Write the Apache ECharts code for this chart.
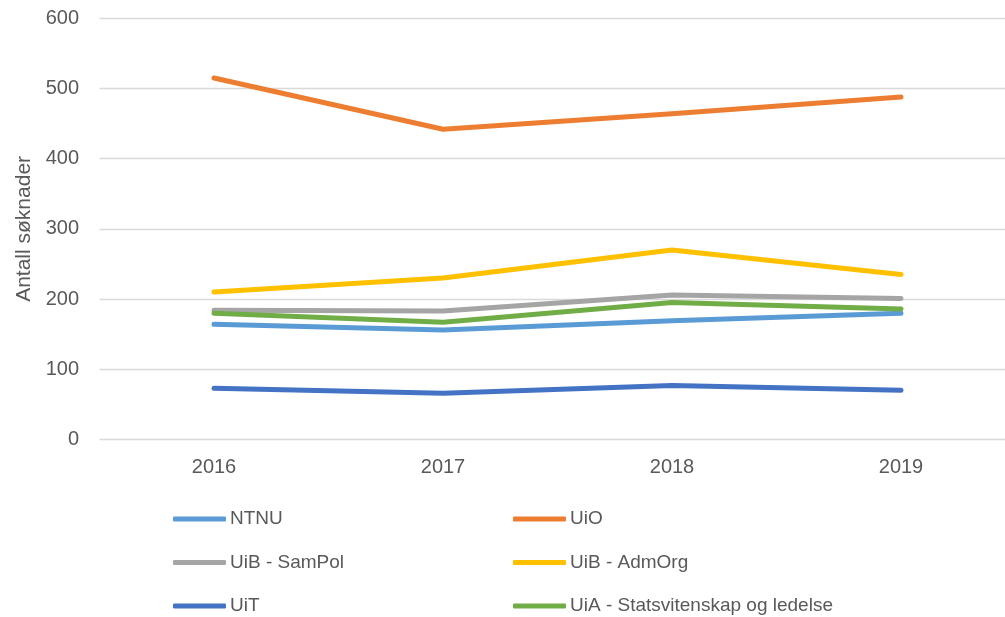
<!DOCTYPE html>
<html>
<head>
<meta charset="utf-8">
<script src="https://cdn.jsdelivr.net/npm/echarts@6/dist/echarts.min.js"></script>
<style>
html,body{margin:0;padding:0;background:#fff;}
#main{width:1005px;height:617px;}
</style>
</head>
<body>
<div id="main"></div>
<script>
var years = ['2016', '2017', '2018', '2019'];
var ntnu = [164, 156, 169, 180];
var uio = [515, 442, 464, 488];
var uibSampol = [184, 183, 206, 201];
var uibAdmorg = [210, 230, 270, 235];
var uit = [73, 66, 77, 70];
var uia = [180, 167, 195, 186];
var yTicks = [0, 100, 200, 300, 400, 500, 600];

var font = 'Liberation Sans';
var grey = '#595959';

function line(name, data, color){
	return {
		name: name,
		type: 'line',
		data: data,
		showSymbol: false,
		symbol: 'none',
		lineStyle: { width: 5, color: color, cap: 'round', join: 'round' },
		itemStyle: { color: color },
		emphasis: { disabled: true }
	};
}

function legend(left, names){
	return {
		orient: 'vertical',
		left: left,
		top: 509.5,
		padding: 0,
		itemWidth: 53,
		itemHeight: 5,
		itemGap: 24.5,
		icon: 'roundRect',
		data: names,
		textStyle: { fontFamily: font, fontSize: 19, color: grey, padding: [0, 0, 0, -1] }
	};
}

var myChart = echarts.init(document.getElementById('main'));
var option = {
	animation: false,
	backgroundColor: '#fff',
	grid: { left: 99.5, width: 916, top: 18.3, bottom: 177.5, containLabel: false, outerBoundsMode: 'none' },
	legend: [
		legend(173, ['NTNU', 'UiB - SamPol', 'UiT']),
		legend(513, ['UiO', 'UiB - AdmOrg', 'UiA - Statsvitenskap og ledelse'])
	],
	xAxis: {
		type: 'category',
		data: years,
		boundaryGap: true,
		axisLine: { show: false },
		axisTick: { show: false },
		axisLabel: { margin: 17.5, fontFamily: font, fontSize: 20, color: grey }
	},
	yAxis: {
		type: 'value',
		min: yTicks[0],
		max: yTicks[yTicks.length - 1],
		interval: 100,
		name: 'Antall søknader',
		nameLocation: 'middle',
		nameGap: 65,
		nameTextStyle: { fontFamily: font, fontSize: 21, color: grey },
		axisLine: { show: false },
		axisTick: { show: false },
		axisLabel: { margin: 20.5, fontFamily: font, fontSize: 20, color: grey },
		splitLine: { lineStyle: { color: '#d9d9d9', width: 1.3 } }
	},
	series: [
		line('NTNU', ntnu, '#5B9BD5'),
		line('UiO', uio, '#ED7D31'),
		line('UiB - SamPol', uibSampol, '#A5A5A5'),
		line('UiB - AdmOrg', uibAdmorg, '#FFC000'),
		line('UiT', uit, '#4472C4'),
		line('UiA - Statsvitenskap og ledelse', uia, '#70AD47')
	]
};
myChart.setOption(option);
</script>
</body>
</html>
